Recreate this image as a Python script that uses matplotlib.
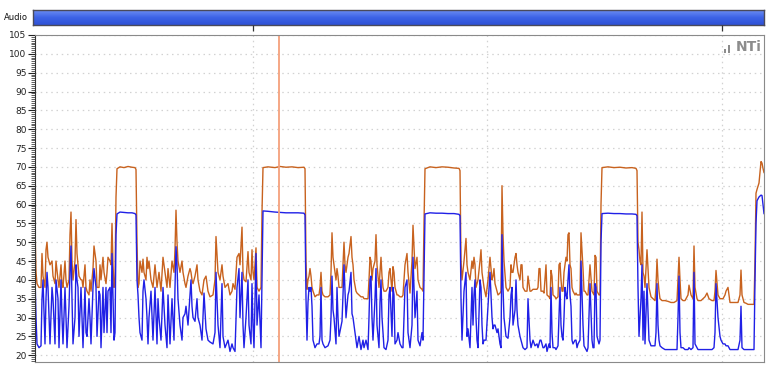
import matplotlib
matplotlib.use("Agg")
import matplotlib.pyplot as plt
import numpy as np
from matplotlib.patches import Rectangle

# time in seconds from start of the recording
time_s = [
    # noisy section 1 + tone 1
    0, 1, 2, 4, 6, 7, 8, 10, 11, 12, 13, 15, 17, 18, 20, 21, 23, 24, 26, 27, 28, 30, 31, 32, 34,
    35, 36, 37, 38, 40, 41, 42, 43, 44, 46, 47, 48, 50, 51, 52, 54, 55, 56, 58, 59, 61, 62, 64, 65, 66,
    68, 69, 71, 72, 73, 75, 76, 77, 78, 79, 80, 81, 82, 85, 89, 93, 97, 100, 101, 102,
    # noisy section 2 + tone 2
    103, 104, 105, 107, 108, 109, 111, 112, 113, 114, 116, 118, 120, 122, 123, 124, 126, 128, 130, 132,
    133, 135, 137, 139, 140, 141, 142, 143, 145, 147, 148, 150, 151, 153, 155, 156, 157, 158, 160, 162,
    163, 165, 167, 169, 171, 173, 175, 178, 180, 181, 183, 185, 187, 188, 190, 193, 195, 197, 198, 200,
    202, 204, 205, 207, 208, 209, 211, 213, 214, 216, 217, 218, 219, 221, 222, 224, 226, 227, 228, 233,
    240, 245, 251, 257, 263, 269, 270, 271,
    # noisy section 3 + tone 3
    272, 273, 274, 275, 276, 277, 278, 280, 282, 284, 285, 286, 287, 288, 290, 293, 295, 296, 297, 298,
    299, 301, 302, 303, 304, 307, 308, 309, 310, 311, 313, 314, 316, 317, 318, 319, 321, 322, 324, 326,
    328, 329, 331, 333, 334, 335, 336, 337, 338, 340, 341, 342, 344, 345, 346, 347, 348, 349, 351, 353,
    354, 355, 357, 358, 359, 360, 362, 363, 365, 367, 368, 370, 372, 373, 375, 377, 378, 380, 382, 383,
    385, 387, 388, 389, 390, 395, 401, 407, 413, 419, 424, 425, 426,
    # noisy section 4 + tone 4
    427, 429, 431, 432, 433, 435, 437, 438, 439, 440, 441, 442, 443, 445, 446, 447, 448, 449, 451, 453,
    455, 457, 458, 459, 460, 462, 463, 465, 466, 467, 468, 469, 471, 473, 475, 476, 477, 478, 480, 481,
    482, 483, 485, 486, 487, 488, 490, 492, 493, 495, 496, 498, 500, 502, 503, 504, 505, 506, 508, 509,
    511, 512, 514, 515, 516, 517, 518, 520, 521, 523, 524, 525, 526, 527, 528, 529, 530, 531, 532, 533,
    534, 535, 536, 537, 538, 540, 541, 542, 543, 545, 546, 548, 549, 550, 552, 553, 555, 557, 558, 559,
    560, 561, 562, 564, 565, 566, 567, 573, 579, 585, 591, 597, 601, 602, 603,
    # quiet section + final rise
    604, 605, 606, 607, 608, 609, 610, 612, 614, 616, 618, 620, 621, 622, 623, 624, 625, 627, 630, 633,
    636, 639, 642, 643, 644, 645, 646, 648, 650, 653, 654, 656, 658, 659, 660, 662, 663, 666, 668, 670,
    672, 674, 677, 679, 680, 681, 683, 685, 686, 688, 690, 691, 693, 695, 698, 700, 703, 705, 706, 707,
    709, 711, 713, 716, 719, 720, 721, 722, 724, 726, 727, 728, 729,
]

# upper trace (orange), dB
level_max = [
    54, 42, 39, 38, 38, 47, 41, 38, 48, 50, 46, 44, 45, 41, 39, 45, 40, 38, 44, 39, 38, 45, 40, 38, 40,
    52, 58, 45, 40, 45, 56, 47, 44, 41, 40, 40, 38, 44, 38, 37, 36, 40, 37, 43, 49, 45, 38, 38, 44, 40,
    46, 42, 39, 42, 46, 45, 44, 55, 44, 38, 40, 62, 69.5, 70, 69.8, 70.1, 69.9, 69.8, 69.3, 50,
    38, 39, 45, 42, 45.5, 42, 40, 46, 43, 45, 40, 38, 44, 38, 40, 42, 37, 46, 42, 38,
    43, 38, 45, 42, 48, 58.5, 50, 45, 42, 45, 42, 39, 38, 41, 43, 42, 40, 39, 41, 44,
    40, 37, 36, 40, 41, 37, 35.5, 36, 40, 51.5, 42, 40, 44, 41, 38, 39, 36, 37, 39, 37.5,
    46, 47, 44, 54, 42, 40, 39.5, 47.5, 42, 40, 48, 42, 40, 48.5, 38, 37, 38, 58, 69.8, 70,
    69.8, 70.1, 69.9, 70, 69.8, 69.9, 69.5, 45,
    37.5, 40, 41, 43, 41, 38, 37, 35.5, 36, 36, 38, 42, 37, 36, 35.5, 35.5, 36, 42, 52.5, 46,
    44, 40, 43, 41, 38, 38, 44, 50, 44, 42, 46, 47, 51.5, 46, 44, 40, 37, 36.5, 36, 35.5,
    35.5, 35, 35, 35, 40, 46, 45, 40, 43, 45, 52, 44, 38, 42, 46, 41, 38, 37, 37, 38,
    42, 43, 37, 43.5, 42, 38, 36, 36, 35.5, 35.5, 36, 44, 47, 42, 36.5, 45, 54.5, 43, 46, 40,
    38, 37.5, 37, 55, 69.5, 70, 69.8, 70, 69.9, 69.7, 69.6, 69, 45,
    40, 45, 51, 44, 42, 40, 45, 43, 46, 44, 38, 39, 40, 45, 48, 42, 40, 38, 35.5, 40,
    46, 40, 41, 43, 39, 37, 36, 36.5, 37, 65, 52, 45, 38, 37, 38, 44, 42, 42, 46, 47,
    44, 42, 40, 44, 44, 38, 37, 37, 41, 37, 37, 37.5, 37.5, 37.5, 38, 43, 43, 37, 37, 36.5,
    44, 36, 35.5, 35, 42.5, 41, 36, 35.5, 35, 35.5, 44, 44.5, 40, 37, 37, 42, 44, 46, 45, 52,
    52.5, 44, 43, 38, 37, 36, 36.5, 36, 36, 36, 52.5, 43, 37, 37, 36, 36, 44, 37, 36.5, 36,
    46.5, 46, 37, 36, 36, 60, 69.8, 70, 69.8, 69.9, 69.7, 69.8, 69.6, 69, 50,
    48, 45, 44, 58, 42, 41, 38, 48, 38, 35.5, 35, 34.5, 38, 45.5, 40, 37, 35, 34.5, 34.5, 34.3,
    34, 34, 34.5, 40, 46, 40, 35, 34.5, 34.5, 36, 38.6, 36, 35, 49, 38, 35, 34.5, 34.5, 35, 35.5,
    36.5, 35, 34.5, 34.5, 37, 42.5, 36, 35, 35, 35, 36, 37, 38, 34, 34, 34, 34, 36, 42.6, 36,
    34, 33.8, 33.5, 33.5, 33.5, 45, 63, 64, 65.7, 71.4, 71, 69.6, 68.5,
]

# lower trace (blue), dB
level_min = [
    41, 30, 23, 22, 22.5, 35, 40, 23, 35, 42, 38, 23, 38, 35, 23, 40, 35, 22, 40, 30, 23, 38, 30, 22, 33,
    42, 49, 35, 23, 30, 44, 40, 38, 25, 38, 30, 22, 38, 26, 25, 35, 30, 23, 38, 43, 38, 25, 37, 36, 22,
    38, 26, 38, 26, 37, 38, 26, 47, 35, 24, 26, 52, 57.5, 58, 57.9, 57.8, 57.8, 57.6, 57.2, 40,
    36, 30, 26, 24, 37, 40, 35, 30, 23, 30, 37, 24, 38, 23, 35, 30, 24, 38, 28, 22,
    36, 23, 35, 24, 38, 48.8, 44, 35, 28, 24, 30, 31, 33, 28, 36, 40, 33, 30, 29, 35,
    30, 28, 24, 36.5, 27, 24, 23.5, 23, 26, 42, 28, 22, 39, 25, 22, 24, 21, 23, 22, 21,
    38, 43, 30, 42, 28, 22, 30, 40, 28, 23, 39, 28, 22, 47, 28, 36, 22, 40, 58.3, 58.2,
    58, 57.9, 57.8, 57.8, 57.8, 57.7, 57.2, 35,
    24, 34, 38, 37, 38, 33, 24, 22, 23, 23, 25, 38, 24, 23, 22, 22.5, 24, 30, 41, 32,
    30, 23, 38, 30, 25, 29, 36, 44, 37, 30, 36, 37, 42, 31, 30, 28, 24, 22, 25, 21.5,
    24, 22, 24, 21.5, 30, 40, 41, 30, 24, 35, 43, 28, 22, 34, 40, 30, 26, 22, 21.5, 24,
    36, 38, 25, 38, 36, 23, 24, 26, 23, 22, 22, 38, 40, 26, 22, 28, 46, 30, 37, 24,
    22.5, 26, 24, 40, 57.5, 57.8, 57.7, 57.7, 57.6, 57.6, 57.4, 57, 35,
    24, 37, 42, 25, 27, 22, 38, 28, 36, 40, 30, 24, 22, 40, 38, 28, 23, 24, 24, 33,
    42, 30, 27, 28, 28, 26, 27, 23, 22, 52, 38, 30, 25, 24.5, 30, 36, 38, 28, 32, 40,
    32, 28, 25, 24, 23, 22, 21.5, 22, 35, 24, 22, 24, 22.5, 23, 22, 23, 24, 24, 22, 22,
    23, 21, 23, 22, 38, 26, 22, 22, 21.5, 22.5, 30, 38, 28, 25, 24, 30, 38, 36, 35, 40,
    44, 36, 33, 24, 23, 24, 24, 22, 23, 24, 45, 28, 22.5, 22, 21, 22, 39, 24, 22, 22,
    39, 38, 25, 23, 24, 50, 57.6, 57.7, 57.6, 57.6, 57.5, 57.5, 57.4, 57, 38,
    25, 30, 35, 44, 24, 37, 23, 39, 24, 22.5, 22.5, 22.5, 26, 39, 28, 24, 22.5, 22, 21.5, 21.5,
    21.5, 21.5, 21.5, 30, 41, 26, 22, 22, 21.5, 21.5, 22, 21.5, 22, 42, 23, 22, 21.5, 21.5, 21.5, 21.5,
    21.5, 21.5, 21.5, 22, 26, 39, 30, 25, 24, 23, 23, 22.5, 22.5, 21.5, 21.5, 21.5, 21.5, 24, 33, 22,
    21.5, 21.5, 21.5, 21.5, 21.5, 40, 55, 61, 62, 62.5, 62.4, 60, 57.6,
]

y_ticks = list(range(20, 106, 5))
time_grid = [218, 452, 687]   # vertical grid marks
cursor_time = 244
t_end = 729

W, H = 768, 375
fig = plt.figure(figsize=(W / 100, H / 100), dpi=100)

# main plot area
ax = fig.add_axes([35 / W, 1 - 362 / H, (764 - 35) / W, (362 - 35) / H])
ax.plot(time_s, level_max, color="#c8621e", lw=1.0)
ax.plot(time_s, level_min, color="#2020e6", lw=1.0)
ax.axvline(cursor_time, color="#f4a07c", lw=1.3)

ax.set_xlim(0, t_end)
ax.set_ylim(18.2, 105)
ax.set_yticks(y_ticks)
ax.set_yticks(np.arange(18.5, 105.1, 0.5), minor=True)
ax.set_xticks(time_grid)
ax.set_xticklabels([])
ax.tick_params(axis="x", length=0)
ax.tick_params(axis="y", which="major", length=5, width=0.8, labelsize=6.5, pad=1, colors="#222222")
ax.tick_params(axis="y", which="minor", length=3, width=0.6, color="#444444")
ax.grid(True, which="major", color="#d2d2d2", linestyle=(0, (1.2, 3)), lw=0.9)
for s in ax.spines.values():
    s.set_color("#8a8a8a")
    s.set_linewidth(0.8)
ax.spines["left"].set_color("#333333")

# logo
ax.text(0.997, 0.985, "NTi", transform=ax.transAxes, ha="right", va="top",
        fontsize=10, fontweight="bold", color="#8c8c8c")
ax.add_patch(Rectangle((0.9445, 0.944), 0.0035, 0.013, transform=ax.transAxes,
                       color="#8c8c8c", lw=0))
ax.add_patch(Rectangle((0.9505, 0.944), 0.0035, 0.026, transform=ax.transAxes,
                       color="#8c8c8c", lw=0))

# audio track bar
bar = fig.add_axes([33 / W, 1 - 25 / H, (764 - 33) / W, 15 / H])
grad = np.linspace(0, 1, 20).reshape(-1, 1)
bar.imshow(grad, aspect="auto", cmap=matplotlib.colors.LinearSegmentedColormap.from_list(
    "audio", ["#6a8cf2", "#3d63e6", "#2f52d6"]), extent=[0, 1, 0, 1])
bar.set_xticks([])
bar.set_yticks([])
for s in bar.spines.values():
    s.set_color("#4a4a5a")
    s.set_linewidth(1.0)

# tick marks below the bar
marks = fig.add_axes([35 / W, 1 - 33 / H, (764 - 35) / W, 8 / H])
marks.set_xlim(0, t_end)
marks.set_ylim(0, 1)
marks.vlines([time_grid[0], time_grid[2]], 0.2, 1, color="#333333", lw=0.9)
marks.axis("off")

fig.text(4 / W, 1 - 18 / H, "Audio", fontsize=6, va="center", ha="left", color="#111111")

fig.savefig("out.png", dpi=100)
plt.close(fig)
